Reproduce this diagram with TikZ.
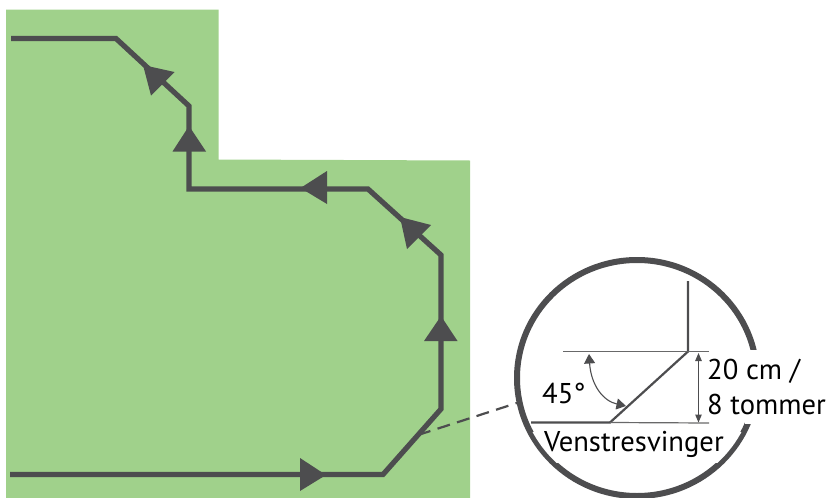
\documentclass[tikz,border=0pt]{standalone}
\usepackage{fontspec}
\setmainfont{PT Sans}
\usetikzlibrary{arrows.meta}
\definecolor{grassgreen}{HTML}{A0D18B}
\definecolor{roadgrey}{HTML}{4D4D4F}
\tikzset{
  x=1pt,y=-1pt,
  road/.style={draw=roadgrey,line width=5.2pt,line join=miter},
  headmark/.style={fill=roadgrey,draw=none},
  thinline/.style={draw=roadgrey!85,line width=1.2pt},
  dimline/.style={draw=roadgrey,line width=1.1pt,{Triangle[length=8pt,width=6.5pt]}-{Triangle[length=8pt,width=6.5pt]}},
  anglearc/.style={draw=roadgrey,line width=1.1pt,{Triangle[length=9.5pt,width=11pt]}-{Triangle[length=9.5pt,width=11pt]}},
  textlabel/.style={inner sep=0pt,anchor=base west,text=black,font=\fontsize{28.6}{30}\selectfont},
}
\begin{document}
\begin{tikzpicture}
\useasboundingbox (0,0) rectangle (828,498);
\fill[grassgreen] (6,9.5) -- (218.5,9.5) -- (218.5,159.5) -- (470,160.5) -- (470,498) -- (6,498) -- cycle;
% route
\coordinate (r0) at (11,38.5); \coordinate (r1) at (116,38.5); \coordinate (r2) at (189,106);
\coordinate (r3) at (189,189); \coordinate (r4) at (368,189); \coordinate (r5) at (441,255);
\coordinate (r6) at (441,409); \coordinate (r7) at (383,474.5); \coordinate (r8) at (10,474.5);
\draw[road] (r0) -- (r1) -- (r2) -- (r3) -- (r4) -- (r5) -- (r6) -- (r7) -- (r8);
\fill[headmark] (189,126) -- (206,151.5) -- (172.5,151.5) -- cycle;
\fill[headmark] (143,65) -- (174.5,72) -- (151,95.5) -- cycle;
\fill[headmark] (300.5,188) -- (327,171) -- (327,204) -- cycle;
\fill[headmark] (400,217) -- (431,225) -- (407,249) -- cycle;
\fill[headmark] (441,316) -- (457.5,341) -- (424,341) -- cycle;
\fill[headmark] (326,475) -- (300,458) -- (300,491) -- cycle;
% leader
\coordinate (leadA) at (418,435); \coordinate (leadB) at (520,402);
\draw[draw=roadgrey,line width=2.2pt,dash pattern=on 13pt off 7.5pt] (leadA) -- (leadB);
% magnifier
\draw[draw=roadgrey,line width=6pt] (637,378) ellipse [x radius=120pt,y radius=118pt];
\fill[white] (745,350) rectangle (790,423.5);
\begin{scope}
  \clip (525,432) rectangle (750,462);
  \draw[white,line width=3pt] (637,378) ellipse [x radius=116.5pt,y radius=114.5pt];
\end{scope}
% detail
\coordinate (d0) at (688,281); \coordinate (d1) at (688,351.5); \coordinate (d2) at (610,422.5); \coordinate (d3) at (531,422.5);
\draw[draw=roadgrey,line width=2.2pt] (d0) -- (d1) -- (d2) -- (d3);
\coordinate (h1a) at (563,351.5); \coordinate (h1b) at (709,351.5); \coordinate (h2b) at (709,423);
\draw[thinline] (h1a) -- (h1b);
\draw[thinline] (d2) -- (h2b);
\draw[dimline] (698.5,353) -- (698.5,422.5);
\draw[anglearc] (589,354) .. controls (591,385) and (603,401) .. (626,406);
\node[textlabel] (t45) at (542,403) {45°};
\node[textlabel] (t20) at (707,379) {20 cm /};
\node[textlabel] (t8) at (707,414) {8 tommer};
\node[textlabel] (tv) at (544,451) {Venstresvinger};
\end{tikzpicture}
\end{document}
